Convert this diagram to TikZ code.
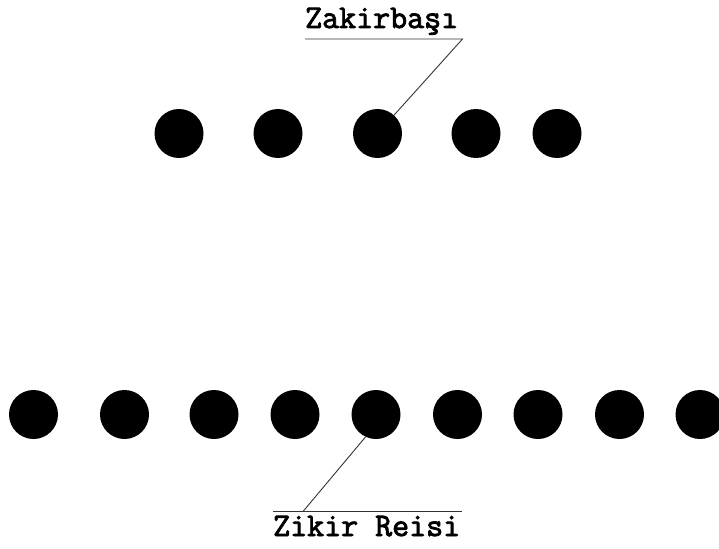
\documentclass[tikz,border=0pt]{standalone}
\usepackage{fontspec}
\newfontfamily\lblfont[FakeBold=2.5]{Latin Modern Mono}
\begin{document}
\begin{tikzpicture}[x=1pt,y=-1pt,
  dot/.style={circle,fill=black,draw=none,minimum size=49pt,inner sep=0pt},
  lbl/.style={font=\lblfont\fontsize{33}{34}\selectfont,inner sep=0pt,anchor=base west},
  lead/.style={draw=black!80,line width=0.9pt}]
\useasboundingbox (0,0) rectangle (719,548);
\begin{scope}
\clip (0,0) rectangle (719,548);
% top row
\node[dot] (t1) at (179,133.5) {};
\node[dot] (t2) at (278,133.5) {};
\node[dot] (t3) at (377.5,133.5) {};
\node[dot] (t4) at (476,133.5) {};
\node[dot] (t5) at (557,133.5) {};
% bottom row
\node[dot] (b1) at (33.5,414.5) {};
\node[dot] (b2) at (124.5,414.5) {};
\node[dot] (b3) at (214,414.5) {};
\node[dot] (b4) at (295,414.5) {};
\node[dot] (b5) at (376,414.5) {};
\node[dot] (b6) at (457.5,414.5) {};
\node[dot] (b7) at (538,414.5) {};
\node[dot] (b8) at (619.5,414.5) {};
\node[dot] (b9) at (700,414.5) {};
\end{scope}
% labels
\node[lbl] (zl) at (305,28) {Zakirbaşı};
\coordinate (zu1) at (305,39);
\coordinate (zu2) at (462.5,39);
\draw[lead] (zu1) -- (zu2) -- (t3.48);
\node[lbl] (rl) at (273,536) {Zikir Reisi};
\coordinate (ru1) at (273,511.5);
\coordinate (ru2) at (462,511.5);
\coordinate (rk) at (303,511.5);
\draw[lead] (ru1) -- (ru2);
\draw[lead] (rk) -- (b5.-115);
\end{tikzpicture}
\end{document}
